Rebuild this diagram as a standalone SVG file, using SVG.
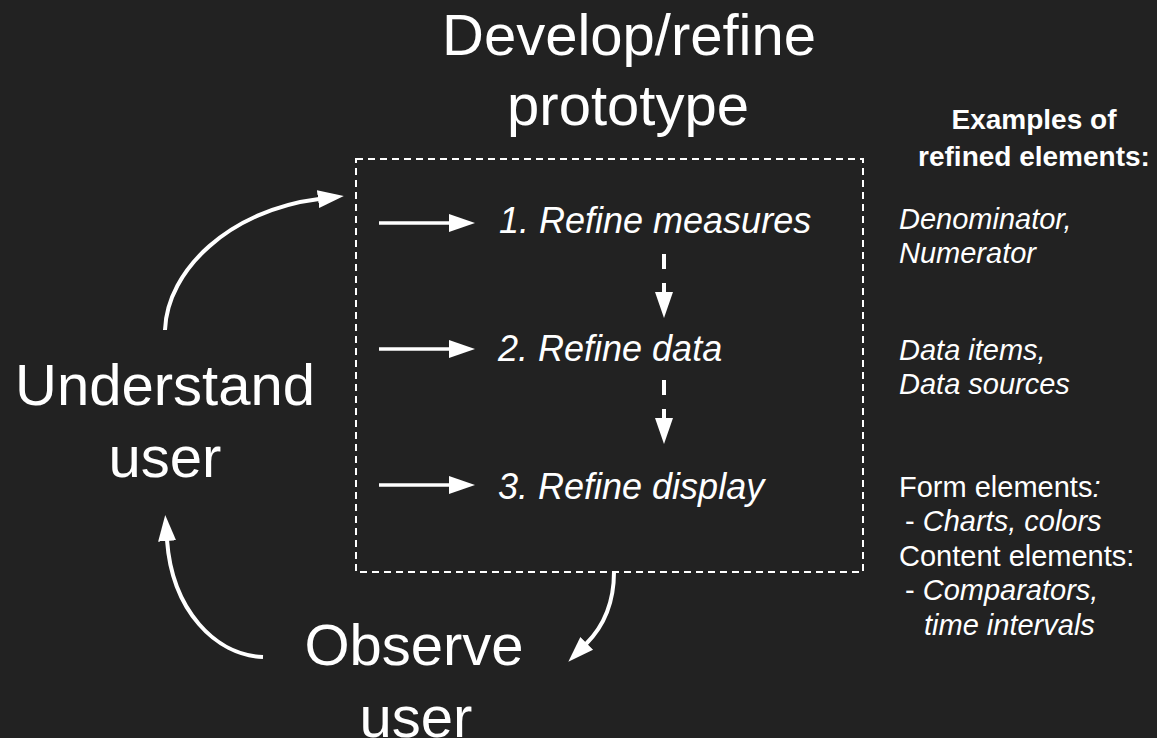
<svg xmlns="http://www.w3.org/2000/svg" width="1157" height="738" viewBox="0 0 1157 738">
<style>
  text { fill: #ffffff; font-family: "Liberation Sans", Arial, sans-serif; }
  .big { font-size: 58px; text-anchor: middle; }
  .step { font-size: 36px; font-style: italic; }
  .ex { font-size: 29px; }
  .it { font-style: italic; }
  .hd { font-size: 28px; font-weight: bold; text-anchor: middle; }
  .con { fill: none; stroke: #ffffff; }
</style>
<defs>
  <marker id="ah" markerUnits="userSpaceOnUse" markerWidth="26" markerHeight="20" refX="1" refY="9" orient="auto" viewBox="0 0 26 18">
    <path d="M0,0 L26,9 L0,18 Z" fill="#ffffff"/>
  </marker>
</defs>
<rect width="1157" height="738" fill="#222222"/>

<g id="prototype-box">
  <rect x="356" y="159" width="507" height="413" fill="none" stroke="#ffffff" stroke-width="2" stroke-dasharray="7 5"/>
  <text class="big" x="629" y="55">Develop/refine</text>
  <text class="big" x="628" y="125">prototype</text>
</g>

<g id="step1"><text class="step" x="499" y="233">1. Refine measures</text></g>
<g id="step2"><text class="step" x="498" y="361">2. Refine data</text></g>
<g id="step3"><text class="step" x="498" y="499">3. Refine display</text></g>

<g id="understand-user">
  <text class="big" x="165" y="405">Understand</text>
  <text class="big" x="165" y="477">user</text>
</g>

<g id="observe-user">
  <text class="big" x="414" y="665">Observe</text>
  <text class="big" x="416" y="737">user</text>
</g>

<g id="examples">
  <text class="hd" x="1034" y="129">Examples of</text>
  <text class="hd" x="1034" y="166">refined elements:</text>
  <text class="ex it" x="899" y="229">Denominator,</text>
  <text class="ex it" x="899" y="263">Numerator</text>
  <text class="ex it" x="899" y="360">Data items,</text>
  <text class="ex it" x="899" y="394">Data sources</text>
  <text class="ex" x="899" y="497">Form elements<tspan class="it">:</tspan></text>
  <text class="ex" x="905" y="531">- <tspan class="it">Charts, colors</tspan></text>
  <text class="ex" x="899" y="566">Content elements:</text>
  <text class="ex" x="905" y="600">- <tspan class="it">Comparators,</tspan></text>
  <text class="ex it" x="924" y="635">time intervals</text>
</g>

<g id="connectors">
  <line class="con" x1="379" y1="223" x2="450" y2="223" stroke-width="3.5" marker-end="url(#ah)"/>
  <line class="con" x1="379" y1="349" x2="450" y2="349" stroke-width="3.5" marker-end="url(#ah)"/>
  <line class="con" x1="379" y1="485" x2="450" y2="485" stroke-width="3.5" marker-end="url(#ah)"/>
  <line class="con" x1="664" y1="254" x2="664" y2="293" stroke-width="4" stroke-dasharray="15 14" marker-end="url(#ah)"/>
  <line class="con" x1="664" y1="380" x2="664" y2="419" stroke-width="4" stroke-dasharray="15 14" marker-end="url(#ah)"/>
  <path class="con" d="M165,330 C167,270 230,210 319,199" stroke-width="4" marker-end="url(#ah)"/>
  <path class="con" d="M614,572 C614,605 603,627 586,644" stroke-width="4" marker-end="url(#ah)"/>
  <path class="con" d="M263,657 C215,655 172,610 167,540" stroke-width="4" marker-end="url(#ah)"/>
</g>
</svg>
